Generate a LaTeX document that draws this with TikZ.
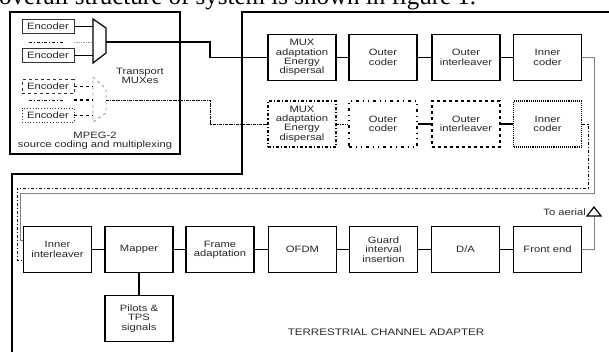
\documentclass[tikz,border=0pt]{standalone}
\usepackage{fontspec}
\setsansfont{Liberation Sans}[FakeStretch=1.22]
\newfontfamily\captionserif{Liberation Serif}
\begin{document}
\begin{tikzpicture}[
    x=1pt, y=-1pt,
    font=\sffamily\fontsize{9.2}{9.4}\selectfont,
    block/.style={draw, line width=1.1pt, minimum width=68pt, minimum height=46pt,
        align=center, inner sep=1pt, text=black!85},
    encbox/.style={draw=black!80, line width=0.8pt, minimum width=52pt,
        minimum height=14pt, inner sep=0pt, text=black!85},
    link/.style={line width=1.1pt},
    thinlink/.style={line width=0.7pt},
    greylink/.style={line width=0.9pt, draw=black!50}
]
\useasboundingbox (0,0) rectangle (609,351);
\clip (0,0) rectangle (609,351);

% caption line cut off at the top
\node[anchor=base west, inner sep=0pt, font=\captionserif\fontsize{25}{27}\selectfont]
    (caption) at (-1,4) {overall structure of system is shown in figure 1.};

% === MPEG-2 source coding ===
\draw[line width=1.2pt] (10,12) rectangle (180,154);
\node[encbox] (enc1) at (48,26) {Encoder};
\node[encbox] (enc2) at (48,55.5) {Encoder};
\node[encbox, dashed] (enc3) at (48,86.5) {Encoder};
\node[encbox, dotted] (enc4) at (48,115) {Encoder};
\draw[thinlink, dash dot] (29,42) -- (63,42);
\draw[thinlink, dash dot] (29,100) -- (63,100);

% transport muxes
\draw[line width=1.2pt] (93,19) -- (106,28) -- (106,53) -- (93,63) -- cycle;
\draw[line width=0.8pt, black!40, dashed] (93,77) -- (106,89) -- (106,113) -- (93,122) -- cycle;
\coordinate (muxleft) at (93,0);
\coordinate (mux1out) at (106,42);
\coordinate (mux2out) at (106,100);
\draw[thinlink] (enc1.east) -- (enc1.east -| muxleft);
\draw[thinlink] (enc2.east) -- (enc2.east -| muxleft);
\draw[thinlink, black!40, densely dotted] (74,42) -- (93,42);
\draw[thinlink, dashed] (enc3.east) -- (enc3.east -| muxleft);
\draw[thinlink, dashed] (enc4.east) -- (enc4.east -| muxleft);
\draw[link, dashed] (74,100) -- (93,100);
\node[align=center, text=black!85] (muxlabel) at (140,76) {Transport\\MUXes};
\node[align=center, text=black!85] (mpeglabel) at (95,141) {MPEG-2\\source coding and multiplexing};

% === Terrestrial channel adapter ===
\draw[line width=1.2pt] (612,12) -- (242,12) -- (242,174) -- (12,174) -- (12,354);

% first branch
\node[block] (adapt1) at (302,57.5) {MUX\\adaptation\\Energy\\dispersal};
\node[block] (outer1) at (383,57.5) {Outer\\coder};
\node[block] (inter1) at (466,57.5) {Outer\\interleaver};
\node[block] (inner1) at (547.5,57.5) {Inner\\coder};

% second branch
\node[block, dash dot] (adapt2) at (302,124) {MUX\\adaptation\\Energy\\dispersal};
\node[block, loosely dash dot dot] (outer2) at (383,124) {Outer\\coder};
\node[block, dashed] (inter2) at (466,124) {Outer\\interleaver};
\node[block, densely dotted] (inner2) at (547.5,124) {Inner\\coder};

% common chain
\node[block] (innint) at (57.5,249.5) {Inner\\interleaver};
\node[block] (mapper) at (139,249.5) {Mapper};
\node[block] (frame) at (220,249.5) {Frame\\adaptation};
\node[block] (ofdm) at (302.5,249.5) {OFDM};
\node[block] (guard) at (383.5,249.5) {Guard\\interval\\insertion};
\node[block] (dac) at (465.5,249.5) {D/A};
\node[block] (front) at (547.5,249.5) {Front end};
\node[block] (pilots) at (139,318.5) {Pilots \&\\TPS\\signals};

% links
\coordinate (bend1) at (210,42);
\coordinate (bend2) at (210,100);
\draw[link] (mux1out) -- (bend1) |- (adapt1.west);
\draw[thinlink, densely dash dot] (mux2out) -- (bend2) |- (adapt2.west);
\draw[link] (adapt1) -- (outer1) -- (inter1) -- (inner1);
\draw[thinlink, densely dotted] (adapt2) -- (outer2);
\draw[link] (outer2) -- (inter2) -- (inner2);

\coordinate (back1) at (594,193);
\coordinate (back1end) at (20,193);
\coordinate (back2) at (588,188);
\coordinate (back2end) at (17,188);
\draw[greylink] (inner1.east) -| (back1) -- (back1end) |- ([yshift=9.5pt]innint.west);
\draw[line width=1pt, dash dot] (inner2.east) -| (back2) -- (back2end) |- ([yshift=-10.5pt]innint.west);

\draw[link] (innint) -- (mapper) -- (frame) -- (ofdm) -- (guard) -- (dac) -- (front);
\draw[link] (mapper) -- (pilots);

% to aerial
\coordinate (aerial) at (594,216);
\draw[greylink] (front.east) -| (aerial);
\draw[line width=1.2pt, fill=white] (587,216) -- (594,207) -- (601,216) -- cycle;
\node[anchor=east, inner sep=1pt, text=black!85] (aeriallabel) at (587,212) {To aerial};
\node[text=black!85, font=\sffamily\fontsize{9.5}{10}\selectfont] (tcalabel) at (386,332)
    {TERRESTRIAL CHANNEL ADAPTER};

\end{tikzpicture}
\end{document}
